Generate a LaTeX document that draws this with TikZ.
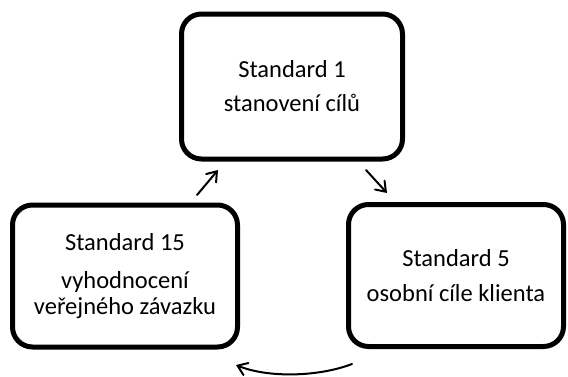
\documentclass[tikz,border=0pt]{standalone}
\usepackage{fontspec}
\setmainfont{Carlito}
\usetikzlibrary{arrows.meta}
\begin{document}
\begin{tikzpicture}[x=1pt,y=-1pt,
  stdbox/.style={draw, line width=5pt, rounded corners=20pt, align=center,
    inner sep=0pt, font=\fontsize{24.5}{26}\selectfont},
  flow/.style={line width=2pt, line cap=round,
    -{Straight Barb[length=9pt,width=13pt,line cap=round]}}]
\useasboundingbox (0,0) rectangle (568,376);

% the three standards
\node[stdbox, minimum width=221pt, minimum height=145pt] (s1) at (292,86.5)
  {Standard 1\\[8pt]stanovení cílů};
\node[stdbox, minimum width=215pt, minimum height=142pt] (s5) at (456,275.5)
  {Standard 5\\[9pt]osobní cíle klienta};
\node[stdbox, minimum width=225pt, minimum height=142pt] (s15) at (125,276)
  {Standard 15\\[12pt]vyhodnocení\\veřejného závazku};

% arrow end points between the boxes
\coordinate (a1s) at (197,195);
\coordinate (a1e) at (218,170);
\coordinate (a2s) at (366,170);
\coordinate (a2e) at (387,193);
\coordinate (a3s) at (352,364);
\coordinate (a3e) at (236,365);

\draw[flow] (a1s) -- (a1e);
\draw[flow] (a2s) -- (a2e);
\draw[flow] (a3s) .. controls (318,377) and (268,378) .. (a3e);
\end{tikzpicture}
\end{document}
